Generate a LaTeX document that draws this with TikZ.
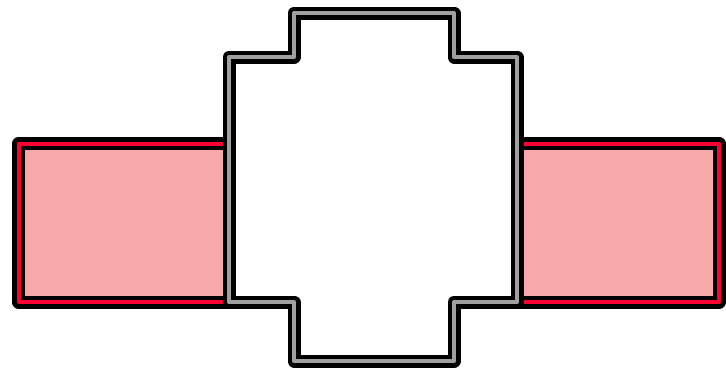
\documentclass[tikz,border=0pt]{standalone}
\usepackage{xcolor}
\usepackage{tikz}
\definecolor{bandred}{RGB}{255,0,51}
\definecolor{bandpink}{RGB}{247,168,170}
\definecolor{rimgray}{RGB}{160,160,160}

\begin{document}
\begin{tikzpicture}[x=1pt,y=-1pt,
  band/.style={line width=4.5pt,double=bandred,double distance=4pt,line join=round,fill=bandpink},
  hub/.style={line width=4.5pt,double=rimgray,double distance=4pt,line join=round,fill=white}]
\useasboundingbox (0,0) rectangle (726,370);
\coordinate (BL) at (18.5,143.5);
\coordinate (BR) at (719,302);
\draw[band] (BL) rectangle (229,302);
\draw[band] (517,143.5) rectangle (BR);
\draw[hub] (229,57) -- (294,57) -- (294,13) -- (454,13) -- (454,57) -- (517,57)
  -- (517,302) -- (454,302) -- (454,361) -- (294,361) -- (294,302) -- (229,302) -- cycle;
\end{tikzpicture}
\end{document}
